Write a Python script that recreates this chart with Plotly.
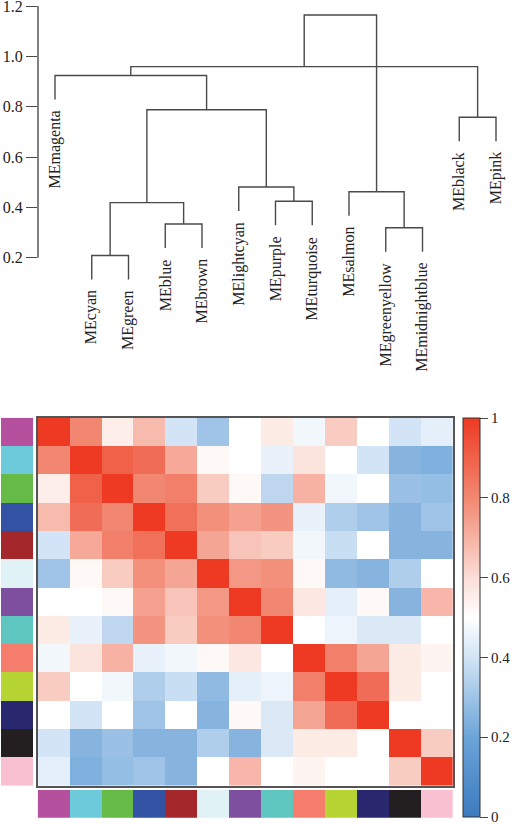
import plotly.graph_objects as go

# ---------------- data ----------------
modules = ["MEmagenta", "MEcyan", "MEgreen", "MEblue", "MEbrown", "MElightcyan",
           "MEpurple", "MEturquoise", "MEsalmon", "MEgreenyellow", "MEmidnightblue",
           "MEblack", "MEpink"]
module_colors = ["#b5509f", "#6ccadb", "#66ba46", "#3452a4", "#a4282b", "#e1f2f6",
                 "#7e4f9f", "#5fc5bf", "#f47d6e", "#b6d433", "#29286e", "#231f20", "#f8c0d1"]

# hclust-style merges: negative = leaf index (1-based), positive = earlier merge (1-based)
merge_left = [-2, -4, 1, -7, -6, -10, 3, -1, -9, -12, 8, 9]
merge_right = [-3, -5, 2, -8, 4, -11, 5, 7, 6, -13, 10, 11]
merge_height = [0.209, 0.334, 0.419, 0.424, 0.481, 0.319, 0.788, 0.924, 0.462, 0.758, 0.959, 1.164]

dendro_ticks = [0.2, 0.4, 0.6, 0.8, 1.0, 1.2]
dendro_ticktext = ["0.2", "0.4", "0.6", "0.8", "1.0", "1.2"]

adjacency = [
    [1.00, 0.80, 0.55, 0.68, 0.40, 0.30, 0.50, 0.56, 0.47, 0.64, 0.50, 0.40, 0.44],
    [0.80, 1.00, 0.90, 0.87, 0.72, 0.52, 0.50, 0.45, 0.58, 0.50, 0.40, 0.25, 0.24],
    [0.55, 0.90, 1.00, 0.80, 0.82, 0.64, 0.52, 0.36, 0.70, 0.47, 0.50, 0.29, 0.28],
    [0.68, 0.87, 0.80, 1.00, 0.86, 0.78, 0.74, 0.77, 0.45, 0.33, 0.30, 0.25, 0.30],
    [0.40, 0.72, 0.82, 0.86, 1.00, 0.73, 0.66, 0.64, 0.47, 0.38, 0.50, 0.25, 0.25],
    [0.30, 0.52, 0.64, 0.78, 0.73, 1.00, 0.76, 0.78, 0.52, 0.27, 0.25, 0.33, 0.50],
    [0.50, 0.50, 0.52, 0.74, 0.66, 0.76, 1.00, 0.80, 0.57, 0.44, 0.52, 0.25, 0.69],
    [0.56, 0.45, 0.36, 0.77, 0.64, 0.78, 0.80, 1.00, 0.50, 0.46, 0.42, 0.42, 0.50],
    [0.47, 0.58, 0.70, 0.45, 0.47, 0.52, 0.57, 0.50, 1.00, 0.82, 0.73, 0.56, 0.53],
    [0.64, 0.50, 0.47, 0.33, 0.38, 0.27, 0.44, 0.46, 0.82, 1.00, 0.87, 0.56, 0.50],
    [0.50, 0.40, 0.50, 0.30, 0.50, 0.25, 0.52, 0.42, 0.73, 0.87, 1.00, 0.50, 0.50],
    [0.40, 0.25, 0.29, 0.25, 0.25, 0.33, 0.25, 0.42, 0.56, 0.56, 0.50, 1.00, 0.64],
    [0.44, 0.24, 0.28, 0.30, 0.25, 0.50, 0.69, 0.50, 0.53, 0.50, 0.50, 0.64, 1.00],
]

cbar_ticks = [0, 0.2, 0.4, 0.6, 0.8, 1]
cbar_ticktext = ["0", "0.2", "0.4", "0.6", "0.8", "1"]

# ---------------- layout constants ----------------
W, H = 517, 824
FONT = "Liberation Serif"
LINE = "#4a4a4a"

def px_x(p):
    return p / W

def px_y(p):
    return 1 - p / H

n = len(modules)
leaf_x = list(range(n))

# dendrogram geometry from merges
node_x = {}
node_h = {}
xs, ys = [], []
hang = 0.1 * (max(merge_height) - min(merge_height))
leaf_end = {}

for a, b, h in zip(merge_left, merge_right, merge_height):
    for c in (a, b):
        if c < 0:
            leaf_end[-c - 1] = h - hang

for k, (a, b, h) in enumerate(zip(merge_left, merge_right, merge_height), start=1):
    pts = []
    for c in (a, b):
        if c < 0:
            i = -c - 1
            pts.append((leaf_x[i], leaf_end[i]))
        else:
            pts.append((node_x[c], node_h[c]))
    (xa, ya), (xb, yb) = pts
    xs += [xa, xa, xb, xb, None]
    ys += [ya, h, h, yb, None]
    node_x[k] = (xa + xb) / 2
    node_h[k] = h

fig = go.Figure()

fig.add_trace(go.Scatter(x=xs, y=ys, mode="lines", line=dict(color=LINE, width=1.4),
                         hoverinfo="skip", showlegend=False, xaxis="x", yaxis="y"))

# leaf labels
for i, name in enumerate(modules):
    fig.add_annotation(x=leaf_x[i], y=leaf_end[i], xref="x", yref="y", text=name,
                       textangle=-90, showarrow=False, xanchor="center", yanchor="top",
                       yshift=-9, font=dict(family=FONT, size=16, color="#222"))

# y-axis line (0.2 - 1.2)
fig.add_shape(type="line", xref="x domain", yref="y", x0=0, x1=0,
              y0=min(dendro_ticks), y1=max(dendro_ticks), line=dict(color=LINE, width=1.4))

# colorscale (blue - white - red)
cscale = [
    [0.0, "rgb(60,122,192)"],
    [0.2, "rgb(108,164,216)"],
    [0.4, "rgb(210,228,245)"],
    [0.5, "rgb(255,255,255)"],
    [0.6, "rgb(251,221,214)"],
    [0.8, "rgb(242,135,113)"],
    [1.0, "rgb(238,58,35)"],
]

fig.add_trace(go.Heatmap(
    z=adjacency, x=list(range(n)), y=list(range(n)), zmin=0, zmax=1,
    colorscale=cscale, xaxis="x2", yaxis="y2", hoverinfo="skip",
    colorbar=dict(
        x=px_x(463), xanchor="left", xpad=0, thickness=17,
        lenmode="pixels", len=399, y=px_y(418), yanchor="top", ypad=0,
        outlinecolor="#333", outlinewidth=1,
        tickvals=cbar_ticks, ticktext=cbar_ticktext, ticks="outside", ticklen=8,
        tickcolor=LINE, tickwidth=1.3, ticklabeloverflow="allow",
        tickfont=dict(family=FONT, size=15, color="#222"),
    ),
))

# discrete colorscale for module strips
strip_scale = []
for i, c in enumerate(module_colors):
    strip_scale.append([i / n, c])
    strip_scale.append([(i + 1) / n, c])
strip_vals = [(i + 0.5) / n for i in range(n)]

fig.add_trace(go.Heatmap(z=[[v] for v in strip_vals], x=[0], y=list(range(n)), zmin=0, zmax=1,
                         colorscale=strip_scale, showscale=False, xaxis="x3", yaxis="y2",
                         hoverinfo="skip"))
fig.add_trace(go.Heatmap(z=[strip_vals], x=list(range(n)), y=[0], zmin=0, zmax=1,
                         colorscale=strip_scale, showscale=False, xaxis="x2", yaxis="y4",
                         hoverinfo="skip"))

x0_px = 38
x_lo = (x0_px - 55) / 36.75
x_hi = (W - 55) / 36.75
ytop_val = 1.2 + 6 / 251.7
ybot_val = 1.2 - 294 / 251.7

fig.update_layout(
    width=W, height=H, margin=dict(l=0, r=0, t=0, b=0, pad=0, autoexpand=False),
    paper_bgcolor="white", plot_bgcolor="white", showlegend=False,
    xaxis=dict(domain=[px_x(x0_px), 1], range=[x_lo, x_hi], visible=False),
    yaxis=dict(domain=[px_y(300), 1], range=[ybot_val, ytop_val], showline=False,
               showgrid=False, zeroline=False, tickvals=dendro_ticks, ticktext=dendro_ticktext,
               ticks="outside", ticklen=11, tickcolor=LINE, tickwidth=1.4,
               ticklabeloverflow="allow",
               tickfont=dict(family=FONT, size=16, color="#222"), anchor="x"),
    xaxis2=dict(domain=[px_x(37.7), px_x(453)], range=[-0.5, n - 0.5], showgrid=False,
                zeroline=False, showticklabels=False, ticks="", showline=True, mirror=True,
                linecolor="#555", linewidth=1.5, anchor="y2"),
    yaxis2=dict(domain=[px_y(785.7), px_y(417.7)], range=[n - 0.5, -0.5], showgrid=False,
                zeroline=False, showticklabels=False, ticks="", showline=True, mirror=True,
                linecolor="#555", linewidth=1.5, anchor="x2"),
    xaxis3=dict(domain=[px_x(1), px_x(33.3)], range=[-0.5, 0.5], visible=False, anchor="y2"),
    yaxis4=dict(domain=[px_y(817.7), px_y(790)], range=[-0.5, 0.5], visible=False, anchor="x2"),
)

fig.write_html("out.html", config={"displayModeBar": False},
               post_script="document.body.style.margin='0';document.body.style.overflow='hidden';")
